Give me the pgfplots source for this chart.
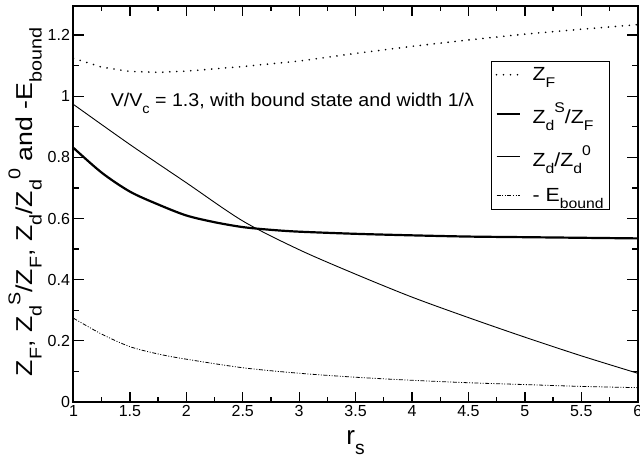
\documentclass[border=0pt]{standalone}
\usepackage{fontspec}
\setmainfont{Liberation Sans}
\usepackage{pgfplots}
\pgfplotsset{compat=1.18}

% xmgrace-like sub/superscripts, text a little wide
\newcommand{\sbs}[1]{\raisebox{-0.38em}{\scalebox{0.74}{#1}}}
\newcommand{\sps}[1]{\raisebox{0.55em}{\scalebox{0.74}{#1}}}
\newcommand{\wide}[1]{\scalebox{1.12}[1]{#1}}

\pgfplotstableread{
x y
1.0 1.124
1.25 1.095
1.5 1.081
1.75 1.078
2.0 1.082
2.5 1.097
3.0 1.115
3.5 1.140
4.0 1.163
4.5 1.184
5.0 1.203
5.5 1.219
6.0 1.234
}\zf

\pgfplotstableread{
x y
1.0 0.831
1.25 0.750
1.5 0.688
1.75 0.646
2.0 0.610
2.25 0.588
2.5 0.572
2.75 0.563
3.0 0.557
3.5 0.550
4.0 0.545
4.5 0.541
5.0 0.539
5.5 0.537
6.0 0.535
}\zds

\pgfplotstableread{
x y
1.0 0.973
1.5 0.842
2.0 0.717
2.5 0.592
3.0 0.498
3.5 0.418
4.0 0.343
4.5 0.276
5.0 0.212
5.5 0.151
6.0 0.094
}\zdo

\pgfplotstableread{
x y
1.0 0.274
1.25 0.222
1.5 0.181
1.75 0.157
2.0 0.140
2.5 0.112
3.0 0.094
3.5 0.081
4.0 0.071
4.5 0.063
5.0 0.057
5.5 0.051
6.0 0.047
}\eb

\begin{document}
\begin{tikzpicture}
\path[use as bounding box] (-73.5bp,-57bp) rectangle (566.5bp,402bp);
\begin{axis}[
  scale only axis,
  width=564.2bp, height=396bp,
  at={(0,0)}, anchor=south west,
  xmin=1, xmax=6, ymin=0, ymax=1.295,
  xtick={1,1.5,2,2.5,3,3.5,4,4.5,5,5.5,6},
  ytick={0,0.2,0.4,0.6,0.8,1,1.2},
  minor x tick num=1, minor y tick num=1,
  tick align=inside, tick pos=both,
  major tick length=10.5bp, minor tick length=5.5bp,
  every tick/.style={black, line width=1.3bp},
  axis line style={line width=2bp},
  /pgf/number format/assume math mode=true,
  ticklabel style={font=\fontsize{16bp}{19bp}\selectfont},
  xlabel={r\sbs{s}},
  xlabel style={font=\fontsize{26bp}{30bp}\selectfont, at={(axis description cs:0.5,-0.108)}, anchor=base},
  ylabel={\scalebox{1.16}[1]{Z\sbs{F}, Z\sbs{d}\sps{S}/Z\sbs{F}, Z\sbs{d}/Z\sbs{d}\sps{0} and -E\sbs{bound}}},
  ylabel style={font=\fontsize{23bp}{27bp}\selectfont, at={(axis description cs:-0.0718,0.505)}, anchor=base},
  legend image code/.code={\draw[#1] (0bp,0bp) -- (23bp,0bp); \path (33bp,0bp);},
  legend cell align=left,
  legend style={at={(axis cs:4.70,1.115)}, anchor=north west,
    draw=black, line width=0.9bp, fill=white,
    font=\fontsize{19bp}{23bp}\selectfont,
    row sep=17bp, inner xsep=4bp, inner ysep=4bp},
]
\addplot[black, line width=1.8bp, line cap=round, dash pattern=on 0bp off 7bp] table {\zf};
\addlegendentry{\wide{Z\sbs{F}}}
\addplot[black, line width=2.2bp, smooth] table {\zds};
\addlegendentry{\wide{Z\sbs{d}\sps{S}/Z\sbs{F}}}
\addplot[black, line width=0.9bp, smooth] table {\zdo};
\addlegendentry{\wide{Z\sbs{d}/Z\sbs{d}\sps{0}}}
\addplot[black, line width=0.8bp, smooth, dash pattern=on 4bp off 1.6bp on 1bp off 1.6bp on 1bp off 1.6bp] table {\eb};
\addlegendentry{\wide{- E\sbs{bound}}}
\node[anchor=base west, font=\fontsize{18.5bp}{22bp}\selectfont] at (axis cs:1.30,0.965) {\scalebox{1.06}[1]{V/V\sbs{c} = 1.3, with bound state and width 1/λ}};
\end{axis}
\end{tikzpicture}
\end{document}
